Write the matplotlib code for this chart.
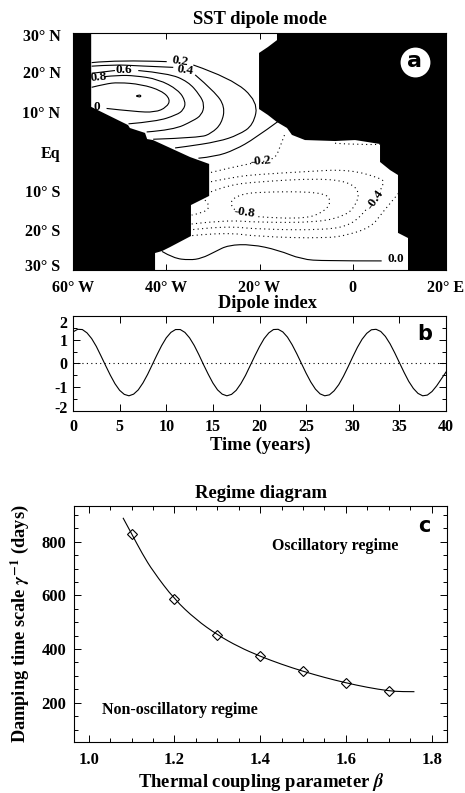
import matplotlib
matplotlib.use("Agg")
import matplotlib.pyplot as plt
from matplotlib.patches import PathPatch
from matplotlib.path import Path
from matplotlib.ticker import MultipleLocator
from matplotlib.transforms import ScaledTranslation

W, H = 465, 793
SERIF = "Liberation Serif"

# Panel a: land masks (lon, lat)
land_west_lon = [-60, -56.1, -56.1, -48.2, -47.8, -44.55, -44.1, -42.85, -34.9, -30.8, -30.8, -34.7, -34.7, -39.2, -40.9, -42.4, -42.4, -60]
land_west_lat = [30, 30, 11.3, 6.7, 5.95, 4.7, 3.15, 2.9, -1.4, -3.15, -11.25, -13.55, -21.4, -24.2, -25.2, -25.7, -30, -30]
land_east_lon = [-16.25, -16.25, -18.2, -20.1, -20.1, -18.2, -16.25, -14.1, -13.05, -10.25, -3.8, 0.5, 5.85, 5.85, 8, 9.7, 9.7, 11.85, 11.85, 20, 20]
land_east_lat = [30, 28.2, 26.45, 24.95, 10.75, 9.25, 7.45, 5.95, 4.2, 2.9, 2.65, 2.9, 1.9, -2.65, -4.7, -5.95, -20.6, -21.9, -30, -30, 30]

# Panel a: solid contours (positive anomalies)
c10_lon = [-56.0, -53.1, -50.3, -45.3, -41.0, -39.1, -39.9, -42.4, -46.7, -52.8]
c10_lat = [16.25, 17.1, 17.5, 17.0, 15.4, 13.2, 11.2, 9.9, 10.1, 10.9]
peak_lon = [-46.4, -45.85, -45.3, -45.85, -46.4]
peak_lat = [14.05, 14.4, 14.05, 13.7, 14.05]
c08_lon = [-53.3, -50.3, -46.7, -41.7, -37.4, -35.8, -36.3, -37.8, -42.1, -48.1]
c08_lat = [18.95, 19.3, 19.2, 18.3, 15.6, 12.6, 10.5, 9.25, 7.6, 7.0]
c06a_lon = [-56.0, -51.0]
c06a_lat = [19.8, 20.5]
c06b_lon = [-46.0, -39.6, -35.3, -32.8, -31.8, -32.4, -34.2, -38.5, -44.2]
c06b_lat = [20.5, 19.8, 17.7, 14.3, 11.8, 9.25, 7.8, 5.45, 4.95]
c04a_lon = [-56.0, -51.0, -46.4, -38.5]
c04a_lat = [21.6, 22.0, 21.7, 21.3]
c04b_lon = [-33.8, -29.6, -27.4, -28.1, -30.3, -32.8, -42.8]
c04b_lat = [19.4, 15.15, 11.35, 7.1, 4.6, 3.5, 3.1]
c02a_lon = [-56.0, -50.3, -39.9]
c02a_lat = [22.5, 23.2, 22.75]
c02b_lon = [-34.2, -26.0, -20.3, -21.3, -24.5, -28.8, -36.0, -38.1]
c02b_lat = [21.9, 18.55, 12.6, 6.7, 4.2, 2.5, 1.2, 0.9]
c00n_lon = [-16.1, -21.0, -25.3, -29.5, -33.1]
c00n_lat = [7.55, 3.3, 0.4, -1.3, -1.7]
c00s_lon = [-40.9, -38.5, -35.0, -32.4, -29.5, -26.7, -21.7, -16.0, -11.0, -6.0, 6.2]
c00s_lat = [-25.3, -27.0, -27.5, -27.05, -25.35, -23.7, -23.5, -24.95, -27.3, -27.7, -27.7]

# Panel a: dotted contours (negative anomalies)
d02_lon = [-30.4, -22.4, -16.7, -15.6, -14.5]
d02_lat = [-5.3, -3.0, -2.15, 1.2, 4.6]
d02n_lon = [-3.8, 1.2, 5.85]
d02n_lat = [2.1, 1.65, 1.8]
d04_lon = [-30.4, -25.25, -20.25, -10.25, -0.95, 6.2, 6.75, 5.1, 3.2, -0.25, -5.95, -20.25, -27.4, -34.55]
d04_lat = [-7.65, -6.4, -5.8, -5.1, -4.5, -6.8, -8.05, -11.45, -14.4, -18.6, -19.9, -19.7, -18.85, -19.8]
d06_lon = [-30.4, -26.7, -20.25, -7.4, -0.95, 1.55, 0.5, -1.65, -7.4, -20.25, -27.4, -34.55]
d06_lat = [-10.2, -8.5, -7.65, -6.8, -7.65, -10.2, -13.95, -16.25, -17.95, -17.95, -17.35, -18.35]
d08_lon = [-20.25, -10.95, -5.95, -4.5, -6.65, -20.25, -24.55, -26.7, -25.25]
d08_lat = [-16.5, -17.35, -15.2, -12.3, -10.2, -10.2, -11.0, -13.1, -14.8]
d10_lon = [-31.7, -30.6, -31.55, -34.55]
d10_lat = [-12.3, -13.55, -15.4, -16.1]
d00_lon = [9.8, 6.2, 4.05, -0.95, -5.95, -20.25, -27.4, -34.55]
d00_lat = [-10.6, -15.65, -19.05, -21.15, -22.0, -21.55, -20.45, -21.3]

lon_ticks = [-60, -40, -20, 0, 20]
lon_labels = ["60° W", "40° W", "20° W", "0", "20° E"]
lat_ticks = [30, 20, 10, 0, -10, -20, -30]
lat_labels = ["30° N", "20° N", "10° N", "Eq", "10° S", "20° S", "30° S"]

# Panel b: dipole index read every half year
time_years = [i * 0.5 for i in range(81)]
dipole_index = [
    1.33, 1.44, 1.43, 1.29, 1.05, 0.72, 0.32, -0.09, -0.49, -0.85, -1.13,
    -1.30, -1.36, -1.29, -1.11, -0.82, -0.46, -0.05, 0.36, 0.75, 1.08,
    1.31, 1.43, 1.43, 1.31, 1.08, 0.76, 0.37, -0.05, -0.45, -0.82, -1.11,
    -1.29, -1.36, -1.30, -1.13, -0.85, -0.50, -0.09, 0.32, 0.71, 1.05,
    1.29, 1.43, 1.44, 1.33, 1.11, 0.79, 0.41, 0.00, -0.41, -0.78, -1.08,
    -1.28, -1.36, -1.32, -1.15, -0.89, -0.54, -0.14, 0.28, 0.68, 1.02,
    1.27, 1.42, 1.44, 1.35, 1.14, 0.83, 0.45, 0.04, -0.37, -0.75, -1.05,
    -1.26, -1.36, -1.33, -1.18, -0.94, -0.65, -0.36,
]

# Panel c: regime boundary and model runs
beta_curve = [1.08, 1.1, 1.125, 1.15, 1.2, 1.25, 1.3, 1.35, 1.4, 1.45, 1.5, 1.55, 1.6, 1.65, 1.7, 1.73, 1.76]
gamma_curve = [889, 830, 755, 690, 585, 510, 453, 408, 373, 343, 317, 294, 274, 257, 244, 241, 241]
beta_runs = [1.1, 1.2, 1.3, 1.4, 1.5, 1.6, 1.7]
gamma_runs = [828, 585, 453, 373, 317, 274, 244]

plt.rcParams["font.family"] = [SERIF, "DejaVu Serif"]
plt.rcParams["font.weight"] = "bold"
plt.rcParams["mathtext.fontset"] = "stix"
plt.rcParams["axes.linewidth"] = 0.8

fig = plt.figure(figsize=(W / 100, H / 100), dpi=100)


def axes_px(left, top, right, bottom):
    return fig.add_axes([left / W, 1 - bottom / H, (right - left) / W, (bottom - top) / H])


def text_px(x, y, s, **kw):
    fig.text(x / W, 1 - y / H, s, ha="center", va="center", **kw)


def nudge(label, points):
    label.set_transform(label.get_transform() + ScaledTranslation(0, points / 72, fig.dpi_scale_trans))


def curve(ax, xs, ys, **kw):
    # quadratic pieces between the read points, so contours do not look angular
    pts = list(zip(xs, ys))
    verts = [pts[0]]
    codes = [Path.MOVETO]
    for i in range(1, len(pts) - 1):
        mid = ((pts[i][0] + pts[i + 1][0]) / 2, (pts[i][1] + pts[i + 1][1]) / 2)
        if i == len(pts) - 2:
            mid = pts[-1]
        verts += [pts[i], mid]
        codes += [Path.CURVE3, Path.CURVE3]
    if len(pts) == 2:
        verts.append(pts[1])
        codes.append(Path.LINETO)
    ax.add_patch(PathPatch(Path(verts, codes), fill=False, ec="black", lw=0.8, zorder=2, **kw))


DOT = (0, (1, 3))

# a: SST dipole mode
ax = axes_px(73, 33, 446, 270)
solid = [(c10_lon, c10_lat), (peak_lon, peak_lat), (c08_lon, c08_lat), (c06a_lon, c06a_lat),
         (c06b_lon, c06b_lat), (c04a_lon, c04a_lat), (c04b_lon, c04b_lat), (c02a_lon, c02a_lat),
         (c02b_lon, c02b_lat), (c00n_lon, c00n_lat), (c00s_lon, c00s_lat)]
for xs, ys in solid:
    curve(ax, xs, ys)
dotted = [(d02_lon, d02_lat), (d02n_lon, d02n_lat), (d04_lon, d04_lat), (d06_lon, d06_lat),
          (d08_lon, d08_lat), (d10_lon, d10_lat), (d00_lon, d00_lat)]
for xs, ys in dotted:
    curve(ax, xs, ys, linestyle=DOT)

lab = dict(fontsize=9.5, ha="center", va="center", color="black")
ax.text(-37.05, 22.9, "0.2", rotation=-8, **lab)
ax.text(-36, 20.6, "0.4", rotation=-8, **lab)
ax.text(-49, 20.6, "0.6", **lab)
ax.text(-54.6, 18.7, "0.8", rotation=5, **lab)
ax.text(-55.8, 11.2, "1.0", zorder=1, **lab)
ax.text(-19.7, -2.4, "-0.2", rotation=5, **lab)
ax.text(-23.25, -15.4, "-0.8", rotation=-8, **lab)
ax.text(4.8, -12.3, "-0.4", rotation=55, bbox=dict(fc="white", ec="none", pad=0.5), **lab)
ax.text(9.3, -27.3, "0.0", **lab)
ax.text(-1.7, 3.6, "-0.2", zorder=1, **lab)

ax.fill(land_west_lon, land_west_lat, color="black", lw=0, zorder=3)
ax.fill(land_east_lon, land_east_lat, color="black", lw=0, zorder=3)
ax.plot([13.35], [22.65], "o", color="white", markersize=21.5, mew=0, zorder=4)
ax.text(13.35, 22.85, "a", family="DejaVu Sans", fontsize=16, ha="center", va="center", zorder=5)

ax.set_xlim(-60, 20)
ax.set_ylim(-30, 30)
ax.set_xticks(lon_ticks)
ax.set_xticklabels(lon_labels)
ax.set_yticks(lat_ticks)
ax.set_yticklabels(lat_labels)
ax.tick_params(axis="x", direction="in", top=True, length=4, width=0.7, labelsize=11.5, pad=7)
ax.tick_params(axis="y", length=0, labelsize=11.5, pad=9)
ylabs = ax.get_yticklabels()
nudge(ylabs[0], -1.5)
nudge(ylabs[-1], 3.5)
text_px(260, 20, "SST dipole mode", fontsize=13.4)

# b: Dipole index
ax = axes_px(73, 316, 446, 411)
ax.plot(time_years, dipole_index, color="black", lw=0.8)
ax.axhline(0, color="black", lw=0.8, linestyle=DOT)
ax.text(37.75, 1.25, "b", family="DejaVu Sans", fontsize=15, ha="center", va="center")
ax.set_xlim(0, 40)
ax.set_ylim(-2, 2)
ax.set_xticks(range(0, 41, 5))
ax.set_yticks([-2, -1, 0, 1, 2])
ax.set_yticklabels(["-2", "-1", "0", "1", "2"])
ax.yaxis.set_minor_locator(MultipleLocator(0.5))
ax.tick_params(which="both", direction="in", top=True, right=True, width=0.7, labelsize=11.5)
ax.tick_params(which="major", length=5)
ax.tick_params(which="minor", length=3)
ax.tick_params(axis="x", pad=6)
ax.tick_params(axis="y", pad=4)
ylabs = ax.get_yticklabels()
nudge(ylabs[0], 3)
nudge(ylabs[-1], -4)
text_px(267, 304, "Dipole index", fontsize=13.2)
text_px(260, 445, "Time (years)", fontsize=13.4)

# c: Regime diagram
ax = axes_px(73.5, 506, 447, 742)
curve(ax, beta_curve, gamma_curve)
ax.plot(beta_runs, gamma_runs, "D", mfc="none", mec="black", mew=0.8, markersize=4.6)
ax.text(1.574, 783, "Oscillatory regime", fontsize=11.5, ha="center", va="center")
ax.text(1.213, 173, "Non-oscillatory regime", fontsize=11.5, ha="center", va="center")
ax.text(1.782, 858, "c", family="DejaVu Sans", fontsize=15, ha="center", va="center")
ax.set_xlim(0.9645, 1.836)
ax.set_ylim(53.5, 933)
ax.set_xticks([1.0, 1.2, 1.4, 1.6, 1.8])
ax.set_yticks([200, 400, 600, 800])
ax.xaxis.set_minor_locator(MultipleLocator(0.05))
ax.yaxis.set_minor_locator(MultipleLocator(50))
ax.tick_params(which="both", direction="in", top=True, right=True, width=0.7, labelsize=12)
ax.tick_params(which="major", length=5)
ax.tick_params(which="minor", length=3)
ax.tick_params(axis="x", pad=7)
ax.tick_params(axis="y", pad=5)
text_px(261, 493, "Regime diagram", fontsize=13.4)
text_px(261, 782, r"Thermal coupling parameter $\beta$", fontsize=13.4)
text_px(20, 624, r"Damping time scale $\gamma^{-1}$ (days)", fontsize=13.2, rotation=90)

fig.savefig("out.png", dpi=100)
